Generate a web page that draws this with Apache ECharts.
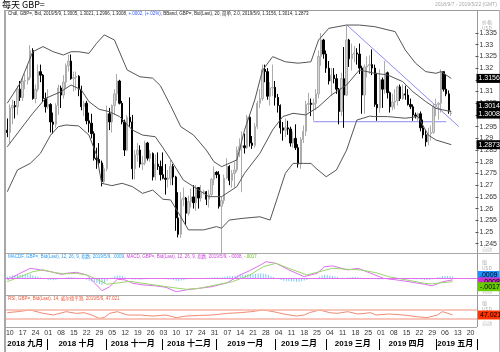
<!DOCTYPE html>
<html><head><meta charset="utf-8">
<script src="https://cdn.jsdelivr.net/npm/echarts/dist/echarts.min.js"></script>
<style>html,body{margin:0;padding:0;background:#fff}#c{width:500px;height:352px}</style>
</head><body><div id="c"></div>
<script>
// ---------- data ----------
const firstDay = '2018-09-07', lastDay = '2019-05-22';
const priceTicks = [1.245,1.25,1.255,1.26,1.265,1.27,1.275,1.28,1.285,1.29,1.295,1.3,1.305,1.31,1.315,1.32,1.325,1.33,1.335];
const monthNames = {'2018-09':'2018 九月','2018-10':'2018 十月','2018-11':'2018 十一月','2018-12':'2018 十二月','2019-01':'2019 一月','2019-02':'2019 二月','2019-03':'2019 三月','2019-04':'2019 四月','2019-05':'2019 五月'};
// [open, high, low, close] per weekday from 2018-09-07
const ohlc = [
[1.2935,1.2985,1.2905,1.2925],[1.2925,1.3045,1.2880,1.3030],[1.3030,1.3065,1.2960,1.3040],[1.3040,1.3060,1.2985,1.3035],[1.3035,1.3125,1.3000,1.3110],
[1.3110,1.3145,1.3060,1.3075],[1.3075,1.3160,1.3060,1.3145],[1.3145,1.3175,1.3110,1.3148],[1.3148,1.3215,1.3130,1.3160],[1.3160,1.3298,1.3150,1.3275],
[1.3275,1.3285,1.3065,1.3070],[1.3070,1.3130,1.3050,1.3110],[1.3110,1.3215,1.3100,1.3185],[1.3185,1.3215,1.3140,1.3170],[1.3170,1.3175,1.3055,1.3070],
[1.3070,1.3095,1.3010,1.3035],[1.3035,1.3110,1.3025,1.3045],[1.3045,1.3050,1.2925,1.2970],[1.2970,1.3010,1.2920,1.2960],[1.2960,1.3050,1.2945,1.3040],
[1.3040,1.3130,1.3000,1.3115],[1.3115,1.3125,1.3030,1.3085],[1.3085,1.3170,1.3070,1.3140],[1.3140,1.3220,1.3115,1.3210],[1.3210,1.3258,1.3185,1.3230],
[1.3230,1.3258,1.3150,1.3155],[1.3155,1.3185,1.3100,1.3160],[1.3160,1.3185,1.3105,1.3165],[1.3165,1.3170,1.3080,1.3110],[1.3110,1.3125,1.3020,1.3035],
[1.3035,1.3060,1.2995,1.3050],[1.3050,1.3060,1.2960,1.2975],[1.2975,1.3010,1.2925,1.2965],[1.2965,1.3005,1.2900,1.2920],[1.2920,1.2930,1.2805,1.2815],
[1.2815,1.2860,1.2770,1.2810],[1.2810,1.2880,1.2780,1.2795],[1.2795,1.2805,1.2695,1.2715],[1.2715,1.2785,1.2705,1.2770],[1.2770,1.3040,1.2760,1.3005],
[1.3005,1.3030,1.2935,1.2970],[1.2970,1.3045,1.2925,1.3040],[1.3040,1.3110,1.3000,1.3090],[1.3090,1.3175,1.3060,1.3145],[1.3145,1.3150,1.3045,1.3050],
[1.3050,1.3060,1.2960,1.2970],[1.2970,1.2980,1.2825,1.2850],[1.2850,1.3000,1.2845,1.2990],[1.2990,1.3075,1.2950,1.2970],[1.2970,1.3000,1.2725,1.2770],
[1.2770,1.2850,1.2725,1.2830],[1.2830,1.2880,1.2800,1.2850],[1.2850,1.2870,1.2775,1.2790],[1.2790,1.2825,1.2765,1.2795],[1.2795,1.2890,1.2785,1.2880],
[1.2880,1.2885,1.2805,1.2815],[1.2815,1.2850,1.2800,1.2835],[1.2835,1.2840,1.2720,1.2735],[1.2735,1.2830,1.2720,1.2790],[1.2790,1.2840,1.2765,1.2780],
[1.2780,1.2805,1.2720,1.2745],[1.2745,1.2840,1.2725,1.2730],[1.2730,1.2790,1.2660,1.2725],[1.2725,1.2765,1.2690,1.2730],[1.2730,1.2810,1.2700,1.2780],
[1.2780,1.2790,1.2700,1.2735],[1.2735,1.2740,1.2505,1.2560],[1.2560,1.2670,1.2477,1.2490],[1.2490,1.2670,1.2475,1.2640],[1.2640,1.2690,1.2610,1.2645],
[1.2645,1.2650,1.2530,1.2580],[1.2580,1.2655,1.2570,1.2630],[1.2630,1.2685,1.2605,1.2650],[1.2650,1.2700,1.2600,1.2625],[1.2625,1.2700,1.2590,1.2690],
[1.2690,1.2690,1.2600,1.2645],[1.2645,1.2700,1.2630,1.2670],[1.2670,1.2680,1.2660,1.2672],[1.2672,1.2675,1.2615,1.2640],[1.2640,1.2680,1.2605,1.2660],
[1.2660,1.2730,1.2650,1.2725],[1.2725,1.2780,1.2700,1.2755],[1.2755,1.2760,1.2730,1.2745],[1.2745,1.2760,1.2600,1.2610],[1.2610,1.2650,1.2405,1.2635],
[1.2635,1.2745,1.2620,1.2730],[1.2730,1.2815,1.2725,1.2780],[1.2780,1.2785,1.2700,1.2720],[1.2720,1.2765,1.2690,1.2750],[1.2750,1.2800,1.2690,1.2765],
[1.2765,1.2865,1.2755,1.2850],[1.2850,1.2900,1.2820,1.2865],[1.2865,1.2930,1.2670,1.2868],[1.2868,1.2920,1.2835,1.2860],[1.2860,1.3000,1.2855,1.2990],
[1.2990,1.3000,1.2865,1.2880],[1.2880,1.2910,1.2855,1.2870],[1.2870,1.2965,1.2860,1.2950],[1.2950,1.3060,1.2940,1.3050],[1.3050,1.3110,1.3030,1.3070],
[1.3070,1.3215,1.3060,1.3195],[1.3195,1.3215,1.3140,1.3185],[1.3185,1.3200,1.3065,1.3080],[1.3080,1.3140,1.3040,1.3115],[1.3115,1.3215,1.3080,1.3118],
[1.3118,1.3145,1.3040,1.3075],[1.3075,1.3090,1.3010,1.3040],[1.3040,1.3045,1.2920,1.2945],[1.2945,1.2970,1.2890,1.2935],[1.2935,1.2985,1.2905,1.2945],
[1.2945,1.2975,1.2915,1.2940],[1.2940,1.2950,1.2865,1.2880],[1.2880,1.2930,1.2860,1.2900],[1.2900,1.2960,1.2850,1.2860],[1.2860,1.2875,1.2775,1.2790],
[1.2790,1.2905,1.2770,1.2895],[1.2895,1.2955,1.2880,1.2930],[1.2930,1.3060,1.2910,1.3045],[1.3045,1.3095,1.3015,1.3050],[1.3050,1.3070,1.2995,1.3045],
[1.3045,1.3070,1.2975,1.3050],[1.3050,1.3110,1.3020,1.3090],[1.3090,1.3275,1.3070,1.3250],[1.3250,1.3350,1.3210,1.3320],[1.3320,1.3325,1.3240,1.3260],
[1.3260,1.3275,1.3180,1.3200],[1.3200,1.3230,1.3130,1.3145],[1.3145,1.3200,1.3080,1.3170],[1.3170,1.3200,1.3135,1.3155],[1.3155,1.3175,1.3090,1.3110],
[1.3110,1.3115,1.2960,1.3015],[1.3015,1.3180,1.2995,1.3155],[1.3155,1.3290,1.2945,1.3085],[1.3085,1.3380,1.3080,1.3320],[1.3320,1.3325,1.3205,1.3240],
[1.3240,1.3305,1.3190,1.3260],[1.3260,1.3295,1.3225,1.3265],[1.3265,1.3285,1.3215,1.3260],[1.3260,1.3305,1.3175,1.3200],[1.3200,1.3210,1.3005,1.3085],
[1.3085,1.3215,1.3005,1.3205],[1.3205,1.3250,1.3160,1.3210],[1.3210,1.3255,1.3175,1.3215],[1.3215,1.3280,1.3170,1.3200],[1.3200,1.3215,1.3035,1.3045],
[1.3045,1.3180,1.2975,1.3030],[1.3030,1.3195,1.3010,1.3150],[1.3150,1.3160,1.3030,1.3110],[1.3110,1.3230,1.3090,1.3180],[1.3180,1.3185,1.3070,1.3095],
[1.3095,1.3100,1.3010,1.3035],[1.3035,1.3090,1.3020,1.3055],[1.3055,1.3110,1.3025,1.3060],[1.3060,1.3125,1.3040,1.3120],[1.3120,1.3130,1.3060,1.3070],
[1.3070,1.3130,1.3065,1.3090],[1.3090,1.3125,1.3065,1.3085],[1.3085,1.3110,1.3040,1.3045],[1.3045,1.3070,1.3025,1.3035],[1.3035,1.3045,1.2975,1.3000],
[1.3000,1.3010,1.2985,1.2995],[1.2995,1.3010,1.2975,1.3005],[1.3005,1.3015,1.2930,1.2945],[1.2945,1.2980,1.2900,1.2915],[1.2915,1.2935,1.2865,1.2885],
[1.2885,1.2945,1.2870,1.2920],[1.2920,1.2955,1.2890,1.2925],[1.2925,1.3050,1.2920,1.3035],[1.3035,1.3070,1.2995,1.3045],[1.3045,1.3055,1.2980,1.3050],
[1.3050,1.3195,1.3010,1.3185],[1.3185,1.3185,1.3100,1.3110],[1.3110,1.3175,1.3080,1.3090],[1.3090,1.3105,1.3005,1.3020],[1.3005,1.3021,1.2996,1.3008]
];
// Bollinger (20, 2.0): [dayIndex, value]
const bbUpper = [[0,1.3050],[5,1.3135],[10,1.3270],[14,1.3292],[18,1.3270],[22,1.3256],[25,1.3270],[28,1.3270],[32,1.3263],[35,1.3306],[38,1.3342],[42,1.3320],[47,1.3192],[52,1.3163],[57,1.3157],[60,1.3125],[64,1.3040],[68,1.2950],[73,1.2914],[78,1.2850],[81,1.2800],[84,1.2779],[90,1.2808],[93,1.2936],[97,1.3064],[100,1.3190],[104,1.3249],[109,1.3227],[114,1.3221],[119,1.3227],[122,1.3320],[126,1.3370],[133,1.3384],[138,1.3384],[144,1.3377],[152,1.3356],[156,1.3277],[160,1.3221],[164,1.3185],[168,1.3178],[170,1.3185],[174,1.3156]];
const bbMiddle = [[0,1.2864],[5,1.2936],[10,1.3007],[15,1.3071],[21,1.3099],[25,1.3128],[29,1.3107],[32,1.3057],[36,1.3024],[40,1.3014],[44,1.2993],[49,1.2936],[53,1.2914],[58,1.2907],[61,1.2860],[64,1.2810],[69,1.2722],[74,1.2687],[79,1.2651],[84,1.2651],[90,1.2694],[93,1.2751],[99,1.2836],[104,1.2936],[108,1.2993],[112,1.3007],[117,1.3000],[122,1.3035],[127,1.3085],[133,1.3128],[138,1.3192],[144,1.3178],[149,1.3171],[155,1.3142],[159,1.3099],[164,1.3057],[168,1.3028],[174,1.3014]];
const bbLower = [[0,1.2672],[4,1.2765],[9,1.2793],[13,1.2836],[17,1.2914],[20,1.2950],[23,1.2957],[28,1.2953],[32,1.2914],[35,1.2829],[37,1.2708],[41,1.2698],[45,1.2708],[49,1.2694],[53,1.2665],[57,1.2679],[61,1.2640],[64,1.2637],[68,1.2565],[71,1.2509],[77,1.2509],[82,1.2523],[84,1.2516],[87,1.2551],[92,1.2558],[99,1.2565],[103,1.2551],[106,1.2651],[109,1.2751],[112,1.2793],[116,1.2793],[119,1.2793],[121,1.2772],[125,1.2736],[129,1.2765],[133,1.2850],[137,1.2978],[142,1.2995],[144,1.2993],[149,1.2993],[156,1.2986],[161,1.2993],[165,1.2914],[168,1.2893],[174,1.2873]];
// trend lines [dayIndex, price]
const trendDown = [[133,1.3385],[177,1.2950]];
const supportLine = [[120,1.2971],[172,1.2971]];
// MACD (12,26,9)
const macdLine = [[0,-0.0008],[5,0.0025],[9,0.0050],[13,0.0042],[17,0.0033],[21,0.0020],[23,0.0025],[27,0.0030],[31,0.0017],[34,-0.0022],[37,-0.0062],[40,-0.0042],[43,-0.0005],[46,-0.0008],[49,-0.0025],[53,-0.0033],[58,-0.0038],[62,-0.0045],[66,-0.0067],[70,-0.0058],[75,-0.0050],[80,-0.0042],[86,-0.0022],[91,0.0017],[95,0.0040],[99,0.0067],[101,0.0083],[105,0.0075],[110,0.0042],[116,0.0008],[121,0.0025],[124,0.0058],[127,0.0062],[133,0.0042],[137,0.0050],[142,0.0025],[147,0.0000],[152,-0.0008],[157,-0.0017],[163,-0.0030],[166,-0.0038],[170,-0.0017],[174,-0.0008]];
const macdSignal = [[0,-0.0017],[5,0.0008],[10,0.0033],[14,0.0042],[18,0.0030],[22,0.0022],[27,0.0025],[31,0.0017],[35,-0.0005],[39,-0.0030],[44,-0.0022],[48,-0.0015],[53,-0.0025],[60,-0.0038],[65,-0.0047],[70,-0.0055],[75,-0.0050],[80,-0.0037],[88,-0.0017],[95,0.0018],[100,0.0058],[105,0.0075],[110,0.0050],[117,0.0017],[122,0.0033],[127,0.0050],[133,0.0045],[138,0.0042],[144,0.0028],[149,0.0008],[156,-0.0008],[163,-0.0025],[166,-0.0028],[170,-0.0022],[174,-0.0017]];
const macdHist = [
0.0009,0.0012,0.0014,0.0015,0.0016,0.0017,0.0018,0.0018,0.0019,0.0020,0.0014,
0.0010,0.0008,0.0004,0.0000,-0.0004,-0.0007,-0.0009,-0.0010,-0.0008,-0.0005,
-0.0002,0.0002,0.0004,0.0006,0.0005,0.0004,0.0003,0.0001,-0.0002,-0.0004,-0.0007,
-0.0012,-0.0016,-0.0020,-0.0024,-0.0028,-0.0032,-0.0025,-0.0012,-0.0004,0.0004,0.0010,0.0014,0.0014,0.0010,
0.0006,0.0002,-0.0002,-0.0006,-0.0006,-0.0006,-0.0007,-0.0006,-0.0005,-0.0004,-0.0003,-0.0003,-0.0002,-0.0003,-0.0004,
-0.0004,-0.0005,-0.0006,-0.0006,-0.0008,-0.0012,-0.0014,-0.0010,-0.0008,-0.0006,
-0.0004,-0.0003,-0.0002,-0.0001,0.0000,0.0001,0.0002,0.0003,0.0003,0.0004,
0.0005,0.0005,0.0004,0.0006,0.0008,0.0010,0.0011,0.0012,0.0013,0.0014,
0.0016,0.0018,0.0018,0.0020,0.0021,0.0020,0.0022,0.0024,0.0025,0.0023,
0.0021,0.0016,0.0010,0.0006,0.0002,-0.0004,-0.0009,-0.0012,-0.0014,-0.0015,
-0.0016,-0.0016,-0.0017,-0.0019,-0.0015,-0.0011,-0.0008,-0.0004,-0.0002,0.0000,
0.0002,0.0008,0.0014,0.0018,0.0016,0.0014,0.0012,0.0009,0.0006,0.0002,
0.0003,0.0001,0.0004,0.0005,0.0006,0.0006,0.0005,0.0003,0.0000,-0.0002,
0.0000,0.0001,0.0001,-0.0003,-0.0006,-0.0005,-0.0005,-0.0003,-0.0004,-0.0006,
-0.0006,-0.0005,-0.0003,-0.0003,-0.0002,-0.0002,-0.0003,-0.0004,-0.0005,-0.0005,
-0.0005,-0.0006,-0.0007,-0.0008,-0.0007,-0.0005,0.0002,0.0005,0.0007,0.0010,
0.0011,0.0011,0.0010,0.0009];
// RSI (14, Wilder)
const rsi = [[0,57.7],[4,62.3],[9,70.0],[10,66.9],[14,54.6],[18,46.9],[23,62.3],[27,54.6],[30,57.7],[33,46.9],[36,31.5],[38,36.2],[40,54.6],[43,62.3],[47,46.9],[52,46.9],[57,42.3],[62,46.9],[66,34.6],[70,42.3],[75,45.0],[80,46.9],[86,54.6],[91,57.7],[95,62.0],[100,70.0],[104,62.3],[108,51.5],[113,42.3],[116,46.9],[118,57.7],[122,70.0],[126,57.7],[129,54.6],[133,62.3],[137,51.5],[142,57.7],[144,46.9],[149,51.5],[155,46.9],[160,39.2],[164,34.6],[168,46.9],[170,62.3],[173,51.5],[174,47.021]];
const rsiLevels = [70, 30];

// ---------- categories ----------
function weekdays(s, e){
  const out=[]; let d=new Date(s+'T00:00:00Z'); const end=new Date(e+'T00:00:00Z');
  while(d<=end){ const w=d.getUTCDay(); if(w>0&&w<6) out.push(d.toISOString().slice(0,10)); d=new Date(d.getTime()+86400000); }
  return out;
}
const cats = weekdays(firstDay, lastDay);
const isMonday = v => new Date(v+'T00:00:00Z').getUTCDay()===1;
const monthStart = new Set(), monthMid = new Map();
(function(){
  const groups={};
  cats.forEach((c,i)=>{const k=c.slice(0,7); (groups[k]=groups[k]||[]).push(i);});
  Object.keys(groups).forEach((k,gi)=>{const a=groups[k]; if(gi>0) monthStart.add(a[0]); monthMid.set(Math.floor((a[0]+a[a.length-1])/2), monthNames[k]);});
})();
const candle = ohlc.map(r=>[r[0],r[3],r[2],r[1]]);
const last = a => a[a.length-1][1];
const fmt4 = v => (v<0?'-':'')+Math.abs(v).toFixed(4).replace(/^0/,'');

const FONT = 'Liberation Sans, Noto Sans CJK SC, sans-serif';
const L=6, R=23;
const boxLabel = (bg, fg, off, txt) => ({show:true, position:'end', distance:1, formatter: ()=>txt, backgroundColor:bg, color:fg, fontSize:7, fontFamily:FONT, padding:[1,2,0,2], offset:off, lineHeight:8});
const hidden = {color:'rgba(0,0,0,0)', width:1};
const TL = '#8c8cf0';
const lastClose = ohlc[ohlc.length-1][3];
const lastHist = macdHist[macdHist.length-1];

const xa = (gi) => ({type:'category', gridIndex:gi, data:cats, boundaryGap:true, axisLine:{show:false}, axisTick:{show:false}, axisLabel:{show:false}, splitLine:{show:false}});

const option = {
  animation:false,
  backgroundColor:'#fff',
  grid:[
    {left:L, right:R, top:33.0, height:210.7},
    {left:L, right:R, top:254, height:41},
    {left:L, right:R, top:296, height:31}
  ],
  xAxis:[
    xa(0), xa(1),
    Object.assign(xa(2), {axisLabel:{show:true, interval:(i,v)=>isMonday(v), formatter:v=>v.slice(8,10), fontSize:7, color:'#333', margin:3, fontFamily:FONT}}),
    {type:'category', gridIndex:2, data:cats, boundaryGap:true, position:'bottom', offset:12,
     axisLine:{show:false}, splitLine:{show:false},
     axisTick:{show:true, interval:(i)=>monthStart.has(i), length:11, lineStyle:{color:'#000', width:1}},
     axisLabel:{show:true, interval:(i)=>monthMid.has(i), formatter:(v,i)=>monthMid.get(i)||'', fontSize:8, color:'#000', margin:1, fontWeight:'bold', fontFamily:FONT}}
  ],
  yAxis:[
    {type:'value', gridIndex:0, position:'right', min:priceTicks[0], max:priceTicks[priceTicks.length-1], interval:0.005,
     axisLine:{show:false}, splitLine:{show:false},
     axisTick:{show:true, length:3, lineStyle:{color:'#555'}},
     axisLabel:{show:true, fontSize:7, color:'#333', margin:4, fontFamily:FONT, formatter:v=>String(+(+v).toFixed(3))}},
    {type:'value', gridIndex:1, min:-0.00835, max:0.01215, show:false, splitLine:{show:false}},
    {type:'value', gridIndex:2, min:-8.2, max:134.4, show:false, splitLine:{show:false}}
  ],
  series:[
    {type:'line', xAxisIndex:0, yAxisIndex:0, data:trendDown, showSymbol:false, clip:false, lineStyle:{color:TL, width:1}, z:1},
    {type:'line', xAxisIndex:0, yAxisIndex:0, data:supportLine, showSymbol:false, clip:false, lineStyle:{color:TL, width:1}, z:1},
    {type:'candlestick', xAxisIndex:0, yAxisIndex:0, data:candle, clip:false, barWidth:'72%',
     itemStyle:{color:'#d6d6d6', borderColor:'#acacac', color0:'#000', borderColor0:'#000', borderWidth:1},
     markLine:{symbol:'none', silent:true, precision:6,
       data:[{yAxis:lastClose, lineStyle:hidden, label:boxLabel('#000','#fff',[0,1], lastClose.toFixed(4))}]}},
    {type:'line', xAxisIndex:0, yAxisIndex:0, data:bbUpper, showSymbol:false, clip:false, lineStyle:{color:'#555', width:1},
     markLine:{symbol:'none', silent:true, precision:6, data:[{yAxis:last(bbUpper), lineStyle:hidden, label:boxLabel('#000','#fff',[0,0], last(bbUpper).toFixed(4))}]}},
    {type:'line', xAxisIndex:0, yAxisIndex:0, data:bbMiddle, showSymbol:false, clip:false, lineStyle:{color:'#555', width:1},
     markLine:{symbol:'none', silent:true, precision:6, data:[{yAxis:last(bbMiddle), lineStyle:hidden, label:boxLabel('#000','#fff',[0,-6], last(bbMiddle).toFixed(4))}]}},
    {type:'line', xAxisIndex:0, yAxisIndex:0, data:bbLower, showSymbol:false, clip:false, lineStyle:{color:'#555', width:1},
     markLine:{symbol:'none', silent:true, precision:6, data:[{yAxis:last(bbLower), lineStyle:hidden, label:boxLabel('#000','#fff',[0,0], last(bbLower).toFixed(4))}]}},
    {type:'bar', xAxisIndex:1, yAxisIndex:1, data:macdHist, barWidth:1, itemStyle:{color:'#7cc8f4'},
     markLine:{symbol:'none', silent:true, precision:6, data:[
       {yAxis:0, lineStyle:{color:'#e070f0', width:1, type:'solid'}, label:{show:false}},
       {yAxis:lastHist, lineStyle:hidden, label:boxLabel('#1e90ff','#000',[0,-1], fmt4(lastHist))}]}},
    {type:'line', xAxisIndex:1, yAxisIndex:1, data:macdLine, showSymbol:false, lineStyle:{color:'#e070f0', width:1},
     markLine:{symbol:'none', silent:true, precision:6, data:[{yAxis:last(macdLine), lineStyle:hidden, label:boxLabel('#cc33cc','#000',[0,2], fmt4(last(macdLine)))}]}},
    {type:'line', xAxisIndex:1, yAxisIndex:1, data:macdSignal, showSymbol:false, lineStyle:{color:'#9ad66a', width:1},
     markLine:{symbol:'none', silent:true, precision:6, data:[{yAxis:last(macdSignal), lineStyle:hidden, label:boxLabel('#66cc00','#000',[0,5], fmt4(last(macdSignal)))}]}},
    {type:'line', xAxisIndex:2, yAxisIndex:2, data:rsi, showSymbol:false, lineStyle:{color:'#f08a70', width:1},
     markLine:{symbol:'none', silent:true, precision:6, data:[
       {yAxis:rsiLevels[0], lineStyle:{color:'#f7b4a4', width:1.5, type:'solid'}, label:{show:false}},
       {yAxis:rsiLevels[1], lineStyle:{color:'#f7b4a4', width:1.5, type:'solid'}, label:{show:false}},
       {yAxis:last(rsi), lineStyle:hidden, label:boxLabel('#ff3300','#000',[0,0], last(rsi).toFixed(3))}]}}
  ],
  graphic:[
    {type:'line', shape:{x1:5,y1:10.5,x2:500,y2:10.5}, style:{stroke:'#9a9a9a', lineWidth:1}, silent:true},
    {type:'line', shape:{x1:5,y1:10,x2:5,y2:352}, style:{stroke:'#a8a8a8', lineWidth:2}, silent:true},
    {type:'line', shape:{x1:5,y1:253.5,x2:500,y2:253.5}, style:{stroke:'#a8a8a8', lineWidth:1}, silent:true},
    {type:'line', shape:{x1:5,y1:295.5,x2:500,y2:295.5}, style:{stroke:'#a8a8a8', lineWidth:1}, silent:true},
    {type:'line', shape:{x1:5,y1:327.5,x2:477,y2:327.5}, style:{stroke:'#a8a8a8', lineWidth:1}, silent:true},
    {type:'line', shape:{x1:477.5,y1:10,x2:477.5,y2:327}, style:{stroke:'#9a9a9a', lineWidth:1}, silent:true},
    {type:'line', shape:{x1:499.5,y1:10,x2:499.5,y2:352}, style:{stroke:'#bbbbbb', lineWidth:1}, silent:true},
    {type:'text', left:2, top:0, style:{text:'每天 GBP=', fill:'#000', font:'9px Noto Sans CJK SC'}},
    {type:'text', right:3, top:2, style:{text:'2018/9/7 - 2019/5/22 (GMT)', fill:'#aaa', font:'5px Liberation Sans'}},
    {type:'text', left:8, top:12, style:{text:'{a|Chdl, GBP=, Bid, 2019/5/9, 1.3005, 1.3021, 1.2996, 1.3008, }{b|+.0002, (+.02%)}{a|, BBand, GBP=, Bid(Last), 20, 简单, 2.0, 2019/5/9, 1.3156, 1.3014, 1.2873}',
      rich:{a:{fill:'#222', font:'4.5px Liberation Sans, Noto Sans CJK SC'}, b:{fill:'#3355ff', font:'4.5px Liberation Sans, Noto Sans CJK SC'}}}},
    {type:'text', left:8, top:255, style:{text:'{a|MACDF, GBP=, Bid(Last), 12, 26, 9, 指数, 2019/5/9, .0009}{b|, MACD, GBP=, Bid(Last), 12, 26, 9, 指数, 2019/5/9, -.0008, }{c|-.0017}',
      rich:{a:{fill:'#2a9df4', font:'4.5px Liberation Sans, Noto Sans CJK SC'}, b:{fill:'#cc44dd', font:'4.5px Liberation Sans, Noto Sans CJK SC'}, c:{fill:'#66bb22', font:'4.5px Liberation Sans, Noto Sans CJK SC'}}}},
    {type:'text', left:8, top:297, style:{text:'RSI, GBP=, Bid(Last), 14, 威尔德平滑, 2019/5/9, 47.021', fill:'#ee5533', font:'4.5px Liberation Sans, Noto Sans CJK SC'}},
    {type:'text', left:482, top:19, style:{text:'价格\nUSD', fill:'#aaa', font:'5px Noto Sans CJK SC', lineHeight:6}},
    {type:'text', left:482, top:247, style:{text:'自动', fill:'#bbb', font:'5px Noto Sans CJK SC'}},
    {type:'text', left:482, top:259, style:{text:'值\nUSD', fill:'#aaa', font:'5px Noto Sans CJK SC', lineHeight:6}},
    {type:'text', left:482, top:289, style:{text:'自动', fill:'#bbb', font:'5px Noto Sans CJK SC'}},
    {type:'text', left:482, top:300, style:{text:'值\nUSD', fill:'#aaa', font:'5px Noto Sans CJK SC', lineHeight:6}},
    {type:'text', left:482, top:321, style:{text:'自动', fill:'#bbb', font:'5px Noto Sans CJK SC'}}
  ]
};
const chart = echarts.init(document.getElementById('c'), null, {renderer:'canvas'});
chart.setOption(option);
</script>
</body></html>
